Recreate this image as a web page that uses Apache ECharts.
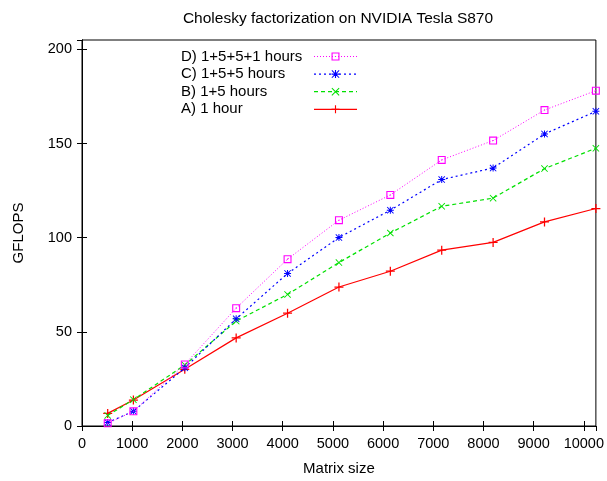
<!DOCTYPE html>
<html>
<head>
<meta charset="utf-8">
<script src="https://cdn.jsdelivr.net/npm/echarts@6/dist/echarts.min.js"></script>
<style>
    html,body{margin:0;padding:0;background:#fff;}
    #chart01{width:607px;height:481px;}
</style>
</head>
<body>
<div id="chart01"></div>
<script>
// matrix sizes (x) and GFLOPS for each run
var sizes = [512, 1024, 2048, 3072, 4096, 5120, 6144, 7168, 8192, 9216, 10240];
var runA = [6.7, 13.8, 30.1, 46.8, 59.9, 73.8, 82.2, 93.4, 97.5, 108.4, 115.5];
var runB = [5.6, 14.0, 32.4, 55.7, 69.9, 86.8, 102.5, 116.7, 121.0, 136.7, 147.5];
var runC = [1.8, 7.8, 30.9, 56.9, 81.0, 100.1, 114.6, 130.9, 137.0, 155.1, 167.1];
var runD = [1.4, 7.8, 32.7, 62.6, 88.6, 109.3, 122.7, 141.3, 151.6, 167.8, 178.1];
var names = ['A) 1 hour', 'B) 1+5 hours', 'C) 1+5+5 hours', 'D) 1+5+5+1 hours'];

// gnuplot style point shapes
var plusPath = 'M4.3,0H5.7V4.3H10V5.7H5.7V10H4.3V5.7H0V4.3H4.3Z';
var crossPath = 'M0,0.9L0.9,0L5,4.1L9.1,0L10,0.9L5.9,5L10,9.1L9.1,10L5,5.9L0.9,10L0,9.1L4.1,5Z';
var boxPath = 'M0,0H10V10H0Z M1.4,1.4V8.6H8.6V1.4Z M4.3,4.3H5.7V5.7H4.3Z';

function pairs(ys){
    var out = [];
    for(var i=0;i<sizes.length;i++){
        out.push([sizes[i], ys[i]]);
    }
    return out;
}

var myChart = echarts.init(document.getElementById('chart01'));
var font = 'Liberation Sans, Arial, sans-serif';
var option = {
    backgroundColor: '#fff',
    animation: false,
    title: {
        text: 'Cholesky factorization on NVIDIA Tesla S870',
        left: 333,
        textAlign: 'center',
        top: 6,
        textStyle: {color: '#000', fontWeight: 'normal', fontSize: 15.5, fontFamily: font}
    },
    legend: {
        orient: 'vertical',
        align: 'right',
        left: 176,
        top: 44,
        itemWidth: 43,
        itemHeight: 10,
        itemGap: 2.6,
        lineStyle: {width: 1.2},
        data: [names[3], names[2], names[1], names[0]],
        formatter: function(n){
            return '{t|' + n + '}';
        },
        textStyle: {
            color: '#000', fontSize: 15, fontFamily: font,
            rich: {
                t: {width: 128, align: 'left', fontSize: 15, fontFamily: font}
            }
        }
    },
    grid: {left: 82, right: 11, top: 40, bottom: 55, show: true, borderColor: '#000', borderWidth: 1, containLabel: false},
    xAxis: [{
        type: 'value',
        min: 0, max: 10240, interval: 1000,
        name: 'Matrix size',
        nameLocation: 'middle',
        nameGap: 35,
        nameTextStyle: {color: '#000', fontSize: 15, fontFamily: font},
        axisLine: {show: true, onZero: false, lineStyle: {color: '#000'}},
        axisTick: {inside: true, length: 5, lineStyle: {color: '#000'}},
        axisLabel: {
            color: '#000', fontSize: 14.5, fontFamily: font, margin: 10, showMaxLabel: false,
            formatter: function(v){ return String(v); }
        },
        splitLine: {show: false}
    }, {
        type: 'value', position: 'top',
        min: 0, max: 10240, interval: 1000,
        axisLine: {show: true, lineStyle: {color: '#000'}},
        axisTick: {inside: true, length: 5, lineStyle: {color: '#000'}},
        axisLabel: {show: false},
        splitLine: {show: false}
    }],
    yAxis: [{
        type: 'value',
        min: 0, max: 205, interval: 50,
        name: 'GFLOPS',
        nameLocation: 'middle',
        nameRotate: 90,
        nameGap: 56,
        nameTextStyle: {color: '#000', fontSize: 15, fontFamily: font},
        axisLine: {show: true, onZero: false, lineStyle: {color: '#000'}},
        axisTick: {inside: true, length: 5, lineStyle: {color: '#000'}},
        axisLabel: {
            color: '#000', fontSize: 14.5, fontFamily: font, margin: 10, showMaxLabel: false,
            formatter: function(v){ return String(v); }
        },
        splitLine: {show: false}
    }, {
        type: 'value', position: 'right',
        min: 0, max: 205, interval: 50,
        axisLine: {show: true, lineStyle: {color: '#000'}},
        axisTick: {inside: true, length: 5, lineStyle: {color: '#000'}},
        axisLabel: {show: false},
        splitLine: {show: false}
    }],
    series: [{
        name: names[0],
        type: 'line',
        symbol: 'path://' + plusPath,
        symbolSize: 9,
        itemStyle: {color: '#ff0000'},
        lineStyle: {color: '#ff0000', width: 1.2, type: 'solid'},
        data: pairs(runA)
    }, {
        name: names[1],
        type: 'line',
        symbol: 'path://' + crossPath,
        symbolSize: 7,
        itemStyle: {color: '#00e000'},
        lineStyle: {color: '#00e000', width: 1.2, type: [4, 3]},
        data: pairs(runB)
    }, {
        name: names[2],
        type: 'line',
        symbol: 'path://' + plusPath + crossPath,
        symbolSize: 7,
        itemStyle: {color: '#0000ff'},
        lineStyle: {color: '#0000ff', width: 1.2, type: [2, 3]},
        data: pairs(runC)
    }, {
        name: names[3],
        type: 'line',
        symbol: 'path://' + boxPath,
        symbolSize: 8,
        itemStyle: {color: '#ff00ff'},
        lineStyle: {color: '#ff00ff', width: 1, type: [1, 2]},
        data: pairs(runD)
    }]
};
myChart.setOption(option);
</script>
</body>
</html>
